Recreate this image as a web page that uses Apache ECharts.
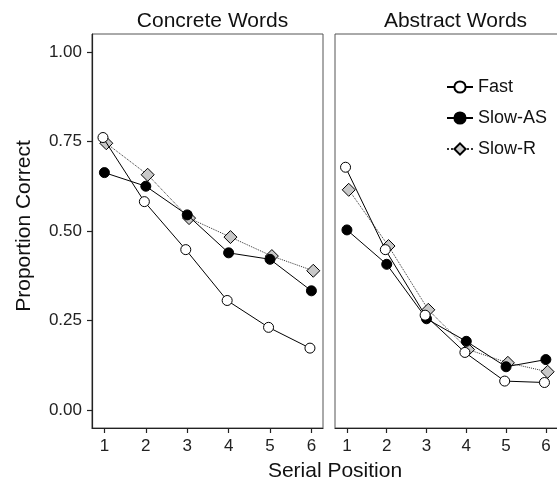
<!DOCTYPE html>
<html>
<head>
<meta charset="utf-8">
<script src="https://cdn.jsdelivr.net/npm/echarts@6/dist/echarts.min.js"></script>
<style>
  html, body { margin: 0; padding: 0; background: #fff; }
  #chart { width: 557px; height: 490px; }
</style>
</head>
<body>
<div id="chart"></div>
<script>
// Serial positions and panel titles
const positions = [1, 2, 3, 4, 5, 6];
const panels = ['Concrete Words', 'Abstract Words'];
const yTicks = [0, 0.25, 0.5, 0.75, 1];

// Proportion correct per condition, concrete words
const concreteFast   = [0.761, 0.582, 0.448, 0.306, 0.231, 0.173];
const concreteSlowAS = [0.663, 0.625, 0.545, 0.439, 0.421, 0.333];
const concreteSlowR  = [0.745, 0.657, 0.536, 0.483, 0.430, 0.389];

// Proportion correct per condition, abstract words
const abstractFast   = [0.678, 0.448, 0.265, 0.161, 0.081, 0.077];
const abstractSlowAS = [0.503, 0.407, 0.255, 0.192, 0.121, 0.141];
const abstractSlowR  = [0.615, 0.458, 0.280, 0.169, 0.132, 0.107];

const FONT = '"Liberation Sans", Arial, sans-serif';

// small horizontal dodge so overlapping markers stay visible
const dodge = { 'Fast': -0.035, 'Slow-AS': 0, 'Slow-R': 0.045 };

const styles = {
  'Fast':    { symbol: 'circle',  size: 10, fill: '#ffffff', line: 'solid' },
  'Slow-AS': { symbol: 'circle',  size: 10, fill: '#000000', line: 'solid' },
  'Slow-R':  { symbol: 'diamond', size: 13, fill: '#c8c8c8', line: 'dotted' }
};

function makeSeries(name, values, gridIdx) {
  const s = styles[name];
  return {
    name: name,
    type: 'line',
    xAxisIndex: gridIdx,
    yAxisIndex: gridIdx,
    data: values.map((v, i) => [positions[i] + dodge[name], v]),
    symbol: s.symbol,
    symbolSize: s.size,
    showAllSymbol: true,
    lineStyle: { color: name === 'Slow-R' ? '#333' : '#000', width: 1, type: s.line },
    itemStyle: { color: s.fill, borderColor: '#000', borderWidth: 1, opacity: 1 },
    emphasis: { disabled: true },
    animation: false,
    z: name === 'Fast' ? 4 : (name === 'Slow-AS' ? 3 : 2)
  };
}

const gridW = 231;
const grids = [
  { left: 92, top: 34, width: gridW, height: 394 },
  { left: 335, top: 34, width: gridW, height: 394 }
];

function xAxis(idx) {
  return {
    type: 'value', gridIndex: idx, min: 0.7, max: 6.28,
    splitLine: { show: false },
    axisLine: { show: true, onZero: false, lineStyle: { color: '#222', width: 1.2 } },
    axisTick: { show: true, customValues: positions, length: 5, lineStyle: { color: '#222', width: 1.2 } },
    axisLabel: { show: true, customValues: positions, color: '#222', fontFamily: FONT, fontSize: 17, margin: 10 }
  };
}

function yAxis(idx) {
  const first = idx === 0;
  return {
    type: 'value', gridIndex: idx, min: -0.05, max: 1.05,
    splitLine: { show: false },
    axisLine: { show: first, onZero: false, lineStyle: { color: '#222', width: 1.2 } },
    axisTick: { show: first, customValues: yTicks, length: 5, lineStyle: { color: '#222', width: 1.2 } },
    axisLabel: {
      show: first, customValues: yTicks, color: '#222', fontFamily: FONT, fontSize: 17, margin: 10,
      formatter: v => v.toFixed(2)
    }
  };
}

const titleStyle = { fontFamily: FONT, fontSize: 21, fontWeight: 'normal', color: '#111' };

const chart = echarts.init(document.getElementById('chart'), null, { renderer: 'canvas' });
chart.setOption({
  backgroundColor: '#ffffff',
  animation: false,
  title: [
    { text: panels[0], left: 92 + gridW / 2, top: 6, textAlign: 'center', textStyle: titleStyle },
    { text: panels[1], left: 335 + gridW / 2, top: 6, textAlign: 'center', textStyle: titleStyle }
  ],
  graphic: [
    { type: 'rect', shape: { x: grids[0].left, y: grids[0].top, width: gridW, height: 394 },
      style: { fill: 'none', stroke: '#555', lineWidth: 1 }, silent: true, z: 0 },
    { type: 'rect', shape: { x: grids[1].left, y: grids[1].top, width: gridW, height: 394 },
      style: { fill: 'none', stroke: '#555', lineWidth: 1 }, silent: true, z: 0 },
    { type: 'text', x: 24, y: 226, rotation: Math.PI / 2,
      style: { text: 'Proportion Correct', fontFamily: FONT, fontSize: 21, fill: '#111',
               textAlign: 'center', textVerticalAlign: 'middle' } },
    { type: 'text', x: 335, y: 471,
      style: { text: 'Serial Position', fontFamily: FONT, fontSize: 21, fill: '#111',
               textAlign: 'center', textVerticalAlign: 'middle' } }
  ],
  legend: {
    orient: 'vertical', left: 441, top: 73,
    itemWidth: 26, itemHeight: 14, itemGap: 13,
    textStyle: { fontFamily: FONT, fontSize: 18, color: '#111' },
    data: ['Fast', 'Slow-AS', 'Slow-R'],
    selectedMode: false
  },
  grid: grids,
  xAxis: [xAxis(0), xAxis(1)],
  yAxis: [yAxis(0), yAxis(1)],
  series: [
    makeSeries('Fast', concreteFast, 0),
    makeSeries('Slow-AS', concreteSlowAS, 0),
    makeSeries('Slow-R', concreteSlowR, 0),
    makeSeries('Fast', abstractFast, 1),
    makeSeries('Slow-AS', abstractSlowAS, 1),
    makeSeries('Slow-R', abstractSlowR, 1)
  ]
});
</script>
</body>
</html>
